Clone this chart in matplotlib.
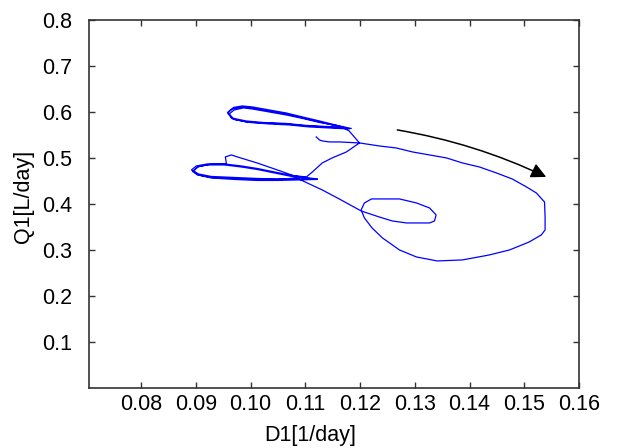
import numpy as np
import matplotlib
matplotlib.use('Agg')
import matplotlib.pyplot as plt

plt.rcParams['font.family'] = ['Liberation Sans', 'DejaVu Sans']

# start hook, big outer swing, small inner loop, then back towards the lower lobe
d1_swing = [0.1120, 0.1126, 0.1131, 0.1144, 0.1162, 0.1180, 0.1199, 0.1235, 0.1266, 0.1296,
            0.1327, 0.1358, 0.1387, 0.1418, 0.1449, 0.1478, 0.1504, 0.1522, 0.1537, 0.1538,
            0.1538, 0.1531, 0.1509, 0.1473, 0.1436, 0.1387, 0.1341, 0.1303, 0.1272, 0.1241,
            0.1222, 0.1208, 0.1202, 0.1208, 0.1221, 0.1272, 0.1303, 0.1327, 0.1339, 0.1336,
            0.1327, 0.1285, 0.1259, 0.1235, 0.1202, 0.1162, 0.1131, 0.1084]
q1_swing = [0.5457, 0.5391, 0.5370, 0.5348, 0.5348, 0.5337, 0.5326, 0.5261, 0.5217, 0.5130,
            0.5065, 0.5000, 0.4891, 0.4804, 0.4674, 0.4543, 0.4370, 0.4239, 0.4043, 0.3717,
            0.3435, 0.3326, 0.3174, 0.3000, 0.2891, 0.2783, 0.2761, 0.2848, 0.3000, 0.3261,
            0.3478, 0.3696, 0.3870, 0.4022, 0.4109, 0.4109, 0.4022, 0.3913, 0.3761, 0.3630,
            0.3587, 0.3587, 0.3630, 0.3717, 0.3848, 0.4109, 0.4304, 0.4565]

# lower lobe (three passes) and the climb up to the junction
d1_lower = [0.1049, 0.1012, 0.0970, 0.0928, 0.0903, 0.0894, 0.0903, 0.0921, 0.0952, 0.0983,
            0.1012, 0.1043, 0.1075, 0.1098, 0.1122,
            0.1089, 0.1049, 0.1012, 0.0970, 0.0928, 0.0905, 0.0896, 0.0905, 0.0925, 0.0956,
            0.0954, 0.0965, 0.0976, 0.1012, 0.1049, 0.1080, 0.1107, 0.1122,
            0.1085, 0.1049, 0.1012, 0.0970, 0.0928, 0.0905, 0.0892, 0.0901, 0.0921, 0.0952,
            0.0983, 0.1012, 0.1043, 0.1075, 0.1102,
            0.1113, 0.1131, 0.1149, 0.1175, 0.1191, 0.1199, 0.1191, 0.1180]
q1_lower = [0.4533, 0.4533, 0.4554, 0.4576, 0.4630, 0.4707, 0.4804, 0.4848, 0.4848, 0.4804,
            0.4750, 0.4674, 0.4598, 0.4565, 0.4533,
            0.4522, 0.4511, 0.4511, 0.4533, 0.4565, 0.4630, 0.4717, 0.4815, 0.4859, 0.4870,
            0.5022, 0.5065, 0.5022, 0.4891, 0.4739, 0.4609, 0.4565, 0.4543,
            0.4543, 0.4543, 0.4554, 0.4576, 0.4598, 0.4652, 0.4739, 0.4826, 0.4870, 0.4870,
            0.4826, 0.4772, 0.4696, 0.4620, 0.4587,
            0.4696, 0.4891, 0.5000, 0.5130, 0.5261, 0.5326, 0.5435, 0.5587]

# upper lobe (three passes)
d1_upper = [0.1168, 0.1126, 0.1095, 0.1065, 0.1034, 0.1003, 0.0985, 0.0967, 0.0958, 0.0967,
            0.0992, 0.1022, 0.1065, 0.1102, 0.1138, 0.1162, 0.1184,
            0.1162, 0.1126, 0.1095, 0.1065, 0.1034, 0.1003, 0.0985, 0.0969, 0.0959, 0.0965,
            0.0992, 0.1022, 0.1065, 0.1102, 0.1138, 0.1171,
            0.1157, 0.1126, 0.1095, 0.1065, 0.1034, 0.1003, 0.0987, 0.0970, 0.0961, 0.0970,
            0.0998, 0.1034, 0.1071, 0.1107, 0.1144, 0.1180]
q1_upper = [0.5663, 0.5783, 0.5870, 0.5957, 0.6022, 0.6087, 0.6109, 0.6065, 0.5978, 0.5848,
            0.5783, 0.5761, 0.5739, 0.5696, 0.5674, 0.5652, 0.5641,
            0.5696, 0.5804, 0.5891, 0.5978, 0.6043, 0.6109, 0.6130, 0.6098, 0.6000, 0.5870,
            0.5804, 0.5772, 0.5750, 0.5707, 0.5685, 0.5663,
            0.5707, 0.5772, 0.5859, 0.5935, 0.6000, 0.6065, 0.6087, 0.6043, 0.5957, 0.5837,
            0.5772, 0.5739, 0.5717, 0.5674, 0.5652, 0.5630]

arrow_from = (0.1268, 0.5609)
arrow_to = (0.1540, 0.4587)

xticks = [0.08, 0.09, 0.10, 0.11, 0.12, 0.13, 0.14, 0.15, 0.16]
yticks = [0.1, 0.2, 0.3, 0.4, 0.5, 0.6, 0.7, 0.8]

d1 = np.concatenate([d1_swing, d1_lower, d1_upper])
q1 = np.concatenate([q1_swing, q1_lower, q1_upper])

fig = plt.figure(figsize=(6.27, 4.48), dpi=100)
ax = fig.add_axes([0.142, 0.134, 0.7815, 0.8215])

ax.plot(d1, q1, color='b', lw=0.9)

# direction of travel
ax.annotate('', xy=arrow_to, xytext=arrow_from,
            arrowprops=dict(arrowstyle='-|>,head_length=0.6,head_width=0.3',
                            connectionstyle='arc3,rad=-0.07',
                            color='black', lw=1.1, mutation_scale=15,
                            shrinkA=0, shrinkB=0))

ax.set_xlim(0.0705, 0.16)
ax.set_ylim(0, 0.8)
ax.set_xticks(xticks)
ax.set_xticklabels(['%.2f' % t for t in xticks])
ax.set_yticks(yticks)
ax.set_yticklabels(['%.1f' % t for t in yticks])

ax.tick_params(direction='in', length=4, width=1, color='#333333',
               top=True, right=True, labelsize=15.5, pad=4)
ax.tick_params(axis='y', pad=12)
for s in ax.spines.values():
    s.set_color('#333333')
    s.set_linewidth(1.2)

ax.set_xlabel('D1[1/day]', fontsize=15.5)
ax.set_ylabel('Q1[L/day]', fontsize=15.5)
ax.xaxis.set_label_coords(0.451, -0.1)
ax.yaxis.set_label_coords(-0.112, 0.52)

fig.savefig('out.png', dpi=100)
